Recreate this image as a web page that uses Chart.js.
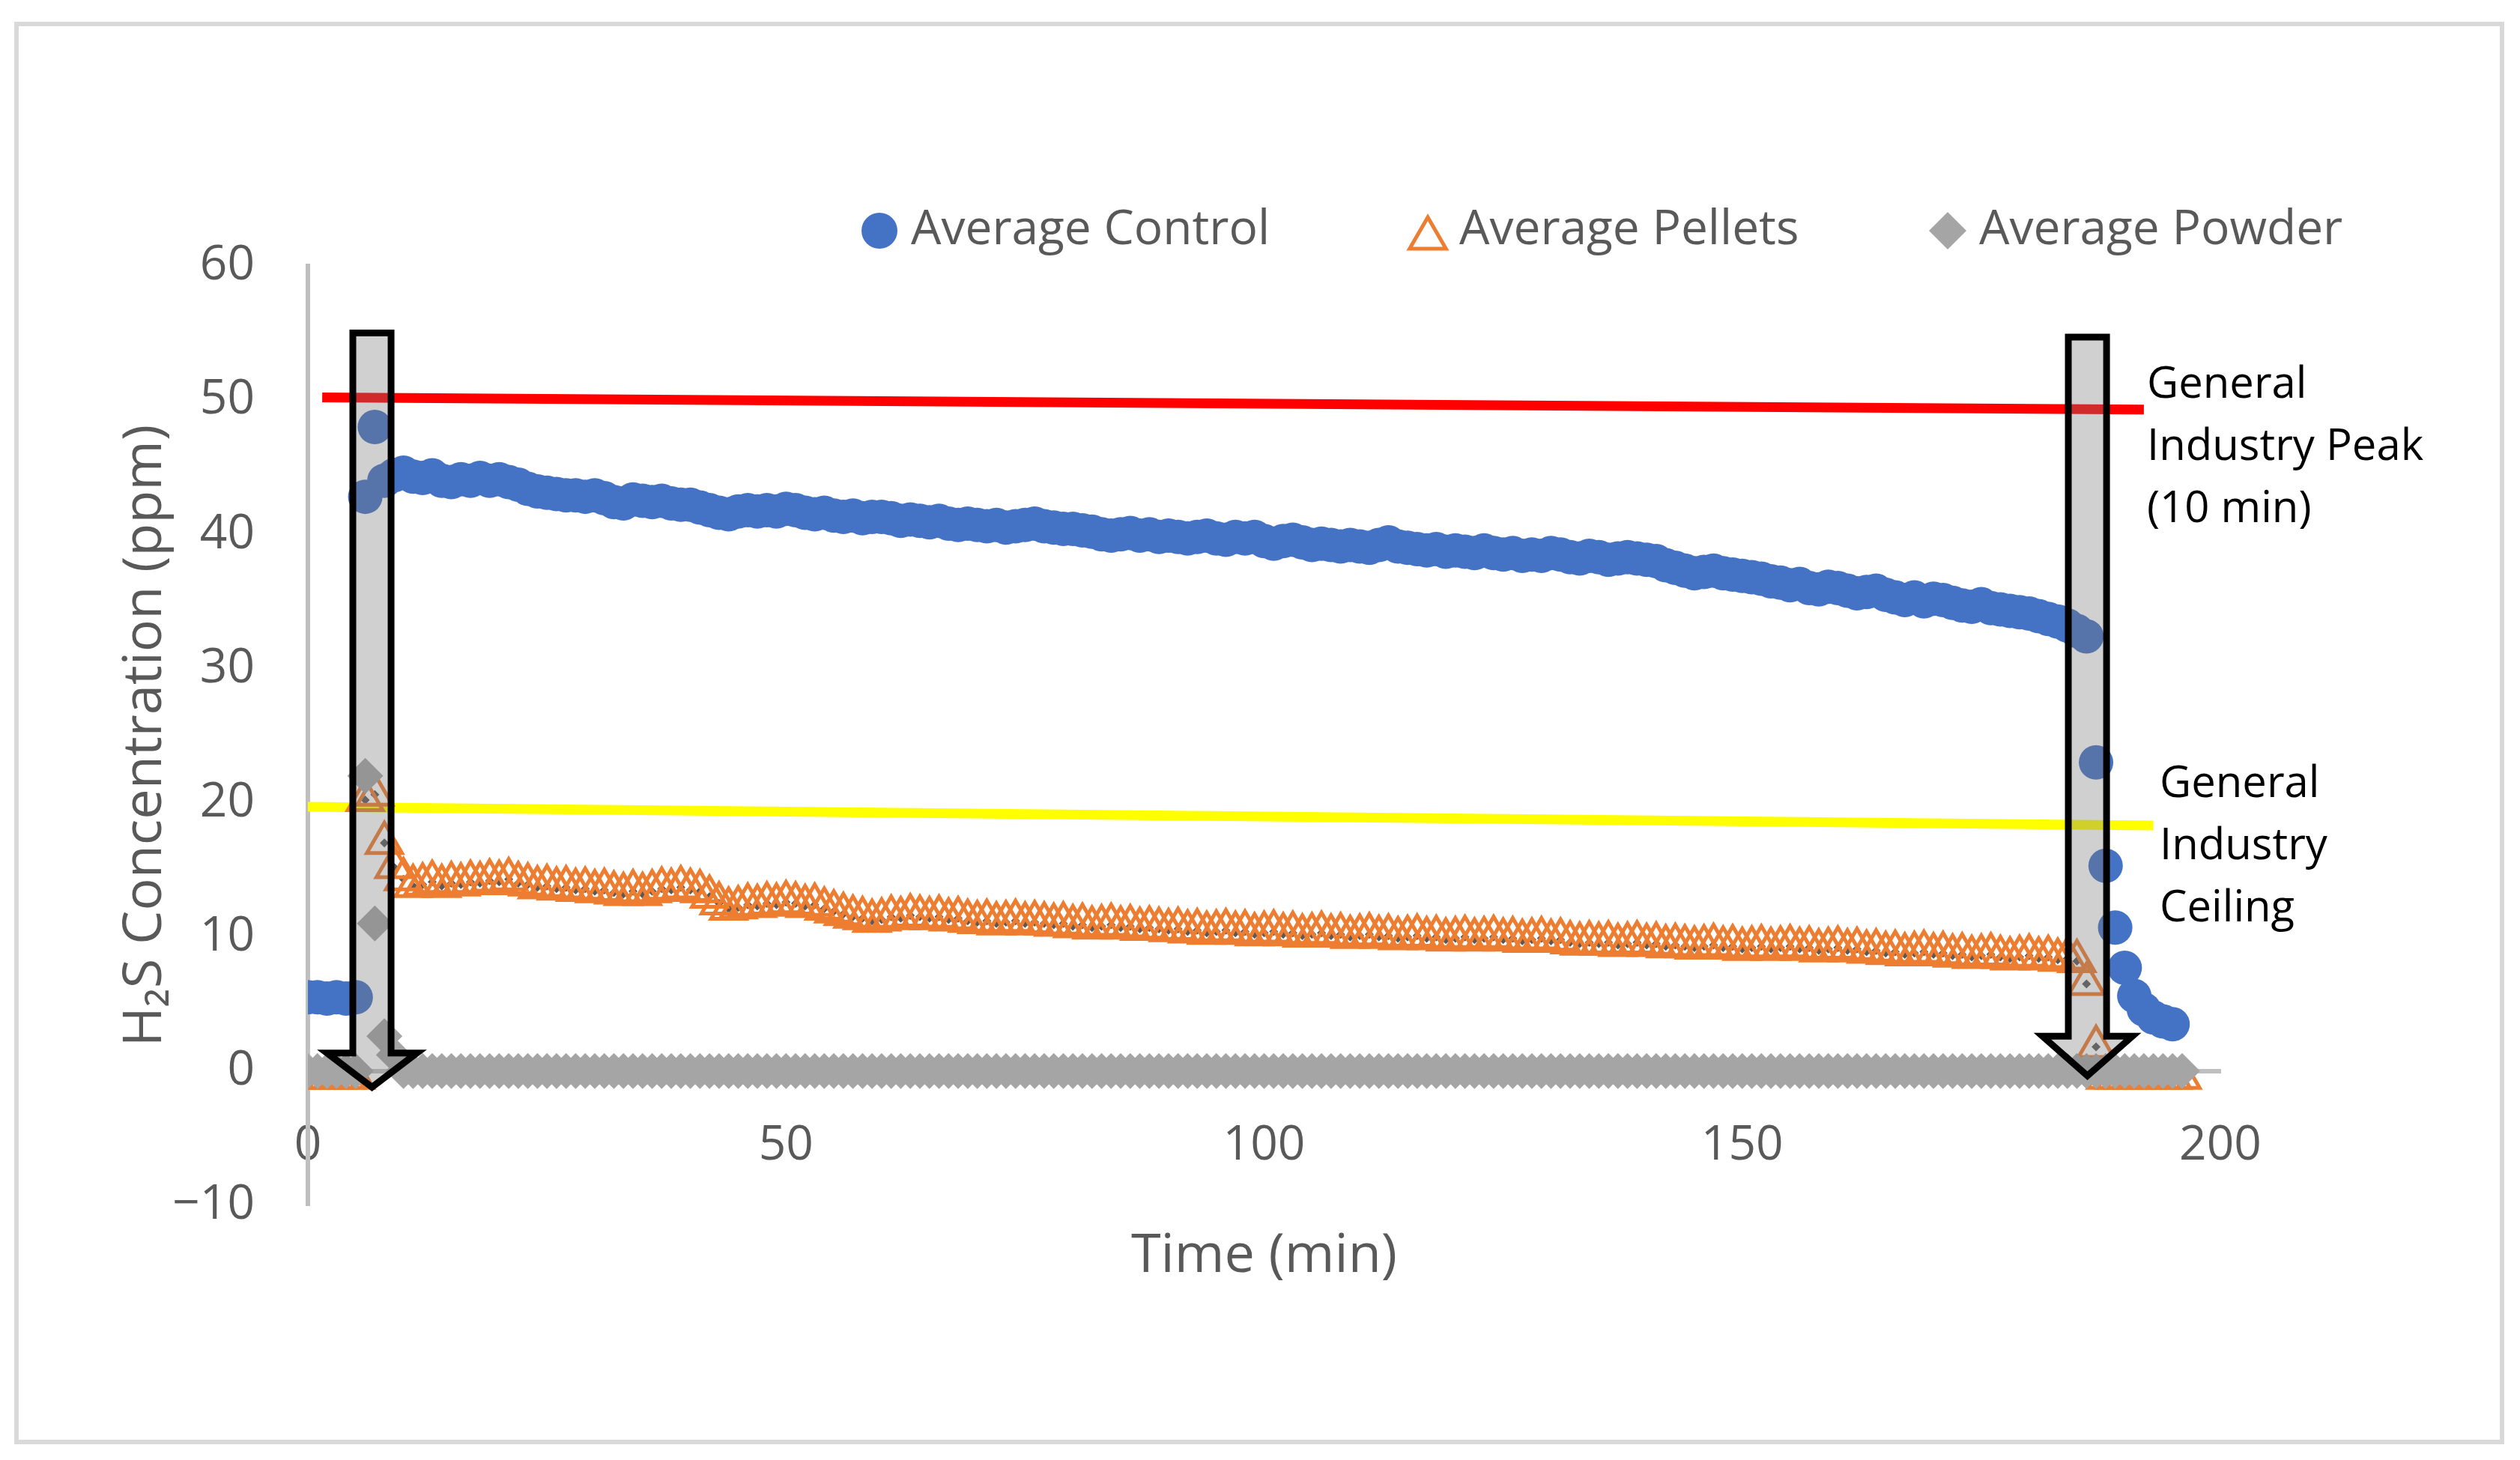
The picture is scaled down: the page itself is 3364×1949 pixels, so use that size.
<!DOCTYPE html>
<html>
<head>
<meta charset="utf-8">
<script src="https://cdn.jsdelivr.net/npm/chart.js@4.4.1/dist/chart.umd.min.js"></script>
<style>
html, body { margin: 0; padding: 0; background: #fff; }
#wrap { position: relative; width: 3364px; height: 1949px; }
</style>
</head>
<body>
<div id="wrap"><canvas id="chart"></canvas></div>
<script>
// time axis, one reading per minute
const minutes = [
  0, 1, 2, 3, 4, 5, 6, 7, 8, 9,
  10, 11, 12, 13, 14, 15, 16, 17, 18, 19,
  20, 21, 22, 23, 24, 25, 26, 27, 28, 29,
  30, 31, 32, 33, 34, 35, 36, 37, 38, 39,
  40, 41, 42, 43, 44, 45, 46, 47, 48, 49,
  50, 51, 52, 53, 54, 55, 56, 57, 58, 59,
  60, 61, 62, 63, 64, 65, 66, 67, 68, 69,
  70, 71, 72, 73, 74, 75, 76, 77, 78, 79,
  80, 81, 82, 83, 84, 85, 86, 87, 88, 89,
  90, 91, 92, 93, 94, 95, 96, 97, 98, 99,
  100, 101, 102, 103, 104, 105, 106, 107, 108, 109,
  110, 111, 112, 113, 114, 115, 116, 117, 118, 119,
  120, 121, 122, 123, 124, 125, 126, 127, 128, 129,
  130, 131, 132, 133, 134, 135, 136, 137, 138, 139,
  140, 141, 142, 143, 144, 145, 146, 147, 148, 149,
  150, 151, 152, 153, 154, 155, 156, 157, 158, 159,
  160, 161, 162, 163, 164, 165, 166, 167, 168, 169,
  170, 171, 172, 173, 174, 175, 176, 177, 178, 179,
  180, 181, 182, 183, 184, 185, 186, 187, 188, 189,
  190, 191, 192, 193, 194, 195, 196
];

const avgControl = [
  5.5, 5.5, 5.4, 5.5, 5.4, 5.5, 42.8, 48.0, 44.0, 44.4,
  44.6, 44.3, 44.2, 44.4, 44.0, 43.9, 44.1, 44.0, 44.2, 44.0,
  44.1, 43.9, 43.7, 43.4, 43.2, 43.1, 43.0, 42.9, 42.9, 42.8,
  42.9, 42.7, 42.4, 42.3, 42.6, 42.5, 42.4, 42.5, 42.3, 42.2,
  42.2, 42.0, 41.8, 41.6, 41.5, 41.7, 41.8, 41.7, 41.8, 41.7,
  41.9, 41.8, 41.6, 41.5, 41.6, 41.4, 41.3, 41.4, 41.2, 41.3,
  41.3, 41.2, 41.0, 41.1, 41.0, 40.9, 41.0, 40.8, 40.7, 40.8,
  40.7, 40.6, 40.7, 40.5, 40.6, 40.7, 40.8, 40.6, 40.5, 40.4,
  40.4, 40.3, 40.2, 40.0, 39.9, 40.0, 40.1, 39.9, 40.0, 39.8,
  39.9, 39.8, 39.7, 39.8, 39.9, 39.7, 39.6, 39.8, 39.7, 39.8,
  39.5, 39.3, 39.5, 39.6, 39.4, 39.2, 39.3, 39.2, 39.1, 39.2,
  39.1, 39.0, 39.2, 39.4, 39.1, 39.0, 38.9, 38.8, 38.9, 38.7,
  38.8, 38.7, 38.6, 38.8, 38.6, 38.5, 38.6, 38.4, 38.5, 38.4,
  38.6, 38.5, 38.3, 38.2, 38.4, 38.3, 38.1, 38.2, 38.3, 38.2,
  38.1, 38.0, 37.7, 37.5, 37.3, 37.1, 37.2, 37.3, 37.1, 37.0,
  36.9, 36.8, 36.7, 36.5, 36.4, 36.2, 36.3, 36.0, 35.9, 36.1,
  36.0, 35.8, 35.6, 35.7, 35.8, 35.5, 35.3, 35.1, 35.3, 35.0,
  35.2, 35.1, 34.9, 34.7, 34.6, 34.8, 34.5, 34.4, 34.3, 34.2,
  34.1, 33.9, 33.7, 33.5, 33.2, 32.8, 32.4, 23.0, 15.3, 10.7,
  7.7, 5.6, 4.6, 4.0, 3.7, 3.5, null
];

const avgPellets = [
  -0.5, -0.5, -0.5, -0.5, -0.5, -0.5, 20.2, 20.6, 17.0, 15.2,
  14.3, 13.8, 13.9, 14.1, 13.8, 14.0, 13.9, 14.1, 14.0, 14.2,
  14.1, 14.3, 14.0, 13.9, 13.7, 13.8, 13.6, 13.7, 13.5, 13.6,
  13.4, 13.5, 13.3, 13.2, 13.4, 13.2, 13.4, 13.6, 13.5, 13.7,
  13.5, 13.4, 13.0, 12.5, 12.1, 12.2, 12.4, 12.3, 12.5, 12.4,
  12.6, 12.5, 12.3, 12.4, 12.1, 11.9, 11.7, 11.5, 11.4, 11.2,
  11.3, 11.5, 11.4, 11.6, 11.5, 11.4, 11.5, 11.3, 11.4, 11.2,
  11.1, 11.2, 11.0, 11.1, 11.2, 11.0, 11.1, 11.0, 10.9, 11.0,
  10.8, 10.9, 10.7, 10.8, 10.9, 10.7, 10.8, 10.6, 10.7, 10.6,
  10.5, 10.6, 10.4, 10.5, 10.3, 10.4, 10.5, 10.3, 10.4, 10.2,
  10.3, 10.4, 10.2, 10.3, 10.1, 10.2, 10.3, 10.1, 10.2, 10.0,
  10.1, 10.2, 10.0, 10.1, 9.9, 10.0, 10.1, 9.9, 10.0, 9.8,
  9.9, 10.0, 9.8, 9.9, 10.0, 9.8, 9.9, 9.7, 9.8, 9.9,
  9.7, 9.8, 9.6, 9.5, 9.6, 9.5, 9.6, 9.4, 9.5, 9.6,
  9.4, 9.5, 9.3, 9.4, 9.3, 9.2, 9.3, 9.4, 9.2, 9.3,
  9.1, 9.2, 9.3, 9.1, 9.2, 9.3, 9.1, 9.2, 9.0, 9.1,
  9.2, 9.0, 9.1, 8.9, 9.0, 8.8, 8.9, 8.7, 8.8, 8.9,
  8.7, 8.8, 8.6, 8.7, 8.5, 8.6, 8.7, 8.5, 8.4, 8.5,
  8.6, 8.4, 8.5, 8.3, 8.4, 8.2, 6.5, 1.8, -0.5, -0.5,
  -0.5, -0.5, -0.5, -0.5, -0.5, -0.5, -0.5
];

const avgPowder = [
  0, 0, 0, 0, 0, 0, 22.0, 11.0, 2.6, 1.2,
  0, 0, 0, 0, 0, 0, 0, 0, 0, 0,
  0, 0, 0, 0, 0, 0, 0, 0, 0, 0,
  0, 0, 0, 0, 0, 0, 0, 0, 0, 0,
  0, 0, 0, 0, 0, 0, 0, 0, 0, 0,
  0, 0, 0, 0, 0, 0, 0, 0, 0, 0,
  0, 0, 0, 0, 0, 0, 0, 0, 0, 0,
  0, 0, 0, 0, 0, 0, 0, 0, 0, 0,
  0, 0, 0, 0, 0, 0, 0, 0, 0, 0,
  0, 0, 0, 0, 0, 0, 0, 0, 0, 0,
  0, 0, 0, 0, 0, 0, 0, 0, 0, 0,
  0, 0, 0, 0, 0, 0, 0, 0, 0, 0,
  0, 0, 0, 0, 0, 0, 0, 0, 0, 0,
  0, 0, 0, 0, 0, 0, 0, 0, 0, 0,
  0, 0, 0, 0, 0, 0, 0, 0, 0, 0,
  0, 0, 0, 0, 0, 0, 0, 0, 0, 0,
  0, 0, 0, 0, 0, 0, 0, 0, 0, 0,
  0, 0, 0, 0, 0, 0, 0, 0, 0, 0,
  0, 0, 0, 0, 0, 0, 0, 0, 0, 0,
  0, 0, 0, 0, 0, 0, 0
];

const xTicks = [0, 50, 100, 150, 200];
const yTicks = [-10, 0, 10, 20, 30, 40, 50, 60];

// hand drawn limit lines (ends in data units)
const peakLineX = [1.5, 192];
const peakLineY = [50.2, 49.3];
const ceilingLineX = [0, 193];
const ceilingLineY = [19.7, 18.3];

// the two down arrows: centre time, top, head base and tip (data units)
const arrowX = [6.7, 186.1];
const arrowTop = [55.0, 54.7];
const arrowBase = [1.35, 2.6];
const arrowTip = [-1.2, -0.35];

const FONT = "'Open Sans', sans-serif";
const GREY_TEXT = '#595959';

function toPoints(xs, ys) {
  let pts = [];
  xs.forEach((x, i) => {
    if (ys[i] !== null && ys[i] !== undefined) pts.push({ x: x, y: ys[i] });
  });
  return pts;
}

//-----------------------------------------------
const framePlugin = {
  id: 'frame',
  beforeDraw(chart) {
    const ctx = chart.ctx;
    ctx.save();
    ctx.fillStyle = '#fff';
    ctx.fillRect(0, 0, chart.width, chart.height);
    ctx.strokeStyle = '#D9D9D9';
    ctx.lineWidth = 6;
    ctx.strokeRect(22, 32, 3318, 1893);
    ctx.restore();
  }
};

const arrowPlugin = {
  id: 'arrows',
  afterDatasetsDraw(chart) {
    const { ctx, scales } = chart;
    const x = scales.x, y = scales.y;
    arrowX.forEach((ax, i) => {
      const cx = x.getPixelForValue(ax);
      const sw = x.getPixelForValue(ax + 2.0) - cx;
      const hw = x.getPixelForValue(ax + 4.7) - cx;
      const top = y.getPixelForValue(arrowTop[i]);
      const base = y.getPixelForValue(arrowBase[i]);
      const tip = y.getPixelForValue(arrowTip[i]);
      ctx.save();
      ctx.beginPath();
      ctx.moveTo(cx - sw, top);
      ctx.lineTo(cx + sw, top);
      ctx.lineTo(cx + sw, base);
      ctx.lineTo(cx + hw, base);
      ctx.lineTo(cx, tip);
      ctx.lineTo(cx - hw, base);
      ctx.lineTo(cx - sw, base);
      ctx.closePath();
      ctx.fillStyle = 'rgba(120,120,120,0.35)';
      ctx.fill();
      ctx.lineWidth = 9;
      ctx.lineJoin = 'miter';
      ctx.strokeStyle = '#000';
      ctx.stroke();
      ctx.restore();
    });
  }
};

const textPlugin = {
  id: 'texts',
  afterDraw(chart) {
    const ctx = chart.ctx;
    ctx.save();
    // legend
    const items = [
      { text: 'Average Control', x: 1174, y: 308, style: 'circle', r: 24, fill: '#4472C4', stroke: '#4472C4', bw: 0 },
      { text: 'Average Pellets', x: 1906, y: 318, style: 'triangle', r: 28, fill: '#fff', stroke: '#ED7D31', bw: 5 },
      { text: 'Average Powder', x: 2600, y: 308, style: 'rectRot', r: 25, fill: '#A5A5A5', stroke: '#A5A5A5', bw: 0 }
    ];
    items.forEach((it) => {
      ctx.fillStyle = it.fill;
      ctx.strokeStyle = it.stroke;
      ctx.lineWidth = it.bw;
      Chart.helpers.drawPoint(ctx, { pointStyle: it.style, radius: it.r, rotation: 0, borderWidth: it.bw }, it.x, it.y);
      ctx.fillStyle = GREY_TEXT;
      ctx.font = '64px ' + FONT;
      ctx.textAlign = 'left';
      ctx.textBaseline = 'middle';
      ctx.fillText(it.text, it.x + 42, 308);
    });
    // notes beside the limit lines
    ctx.fillStyle = '#000';
    ctx.font = '58px ' + FONT;
    ['General', 'Industry Peak', '(10 min)'].forEach((t, i) => ctx.fillText(t, 2866, 514 + i * 83));
    ['General', 'Industry', 'Ceiling'].forEach((t, i) => ctx.fillText(t, 2883, 1047 + i * 83));
    ctx.restore();
  }
};

//-----------------------------------------------
Chart.defaults.font.family = FONT;
Chart.defaults.color = GREY_TEXT;

new Chart(document.getElementById('chart'), {
  type: 'scatter',
  data: {
    datasets: [
      {
        type: 'line', label: 'peak', data: toPoints(peakLineX, peakLineY),
        borderColor: '#FF0000', borderWidth: 13, pointRadius: 0, order: 5
      },
      {
        type: 'line', label: 'ceiling', data: toPoints(ceilingLineX, ceilingLineY),
        borderColor: '#FFFF00', borderWidth: 13, pointRadius: 0, order: 5
      },
      {
        label: 'Average Control', data: toPoints(minutes, avgControl), showLine: false,
        pointStyle: 'circle', pointRadius: 23, pointBorderWidth: 0,
        pointBackgroundColor: '#4472C4', pointBorderColor: '#4472C4', order: 4
      },
      {
        // dark dots showing through the hollow triangles
        label: 'pellet core', data: toPoints(minutes, avgPellets), showLine: false,
        pointStyle: 'rectRot', pointRadius: 6, pointBorderWidth: 0,
        pointBackgroundColor: '#595959', pointBorderColor: '#595959', order: 3
      },
      {
        label: 'Average Pellets', data: toPoints(minutes, avgPellets), showLine: false,
        pointStyle: 'triangle', pointRadius: 27, pointBorderWidth: 5,
        pointBackgroundColor: 'rgba(255,255,255,0)', pointBorderColor: '#ED7D31', order: 2
      },
      {
        label: 'Average Powder', data: toPoints(minutes, avgPowder), showLine: false,
        pointStyle: 'rectRot', pointRadius: 24, pointBorderWidth: 0,
        pointBackgroundColor: '#A5A5A5', pointBorderColor: '#A5A5A5', order: 1
      }
    ]
  },
  options: {
    responsive: true,
    maintainAspectRatio: false,
    animation: false,
    devicePixelRatio: 1,
    layout: { padding: { left: 0, top: 355, right: 400, bottom: 340 } },
    plugins: { legend: { display: false }, tooltip: { enabled: false } },
    scales: {
      x: {
        type: 'linear', position: { y: 0 }, min: 0, max: 200,
        afterBuildTicks: (scale) => { scale.ticks = xTicks.map((v) => ({ value: v })); },
        grid: { display: false, drawTicks: false },
        border: { color: '#BFBFBF', width: 6 },
        ticks: { font: { size: 64 }, color: GREY_TEXT, padding: 62 },
        title: { display: true, text: 'Time (min)', font: { size: 72 }, color: GREY_TEXT, padding: { top: 4, bottom: 0 } }
      },
      y: {
        type: 'linear', position: 'left', min: -10, max: 60,
        afterBuildTicks: (scale) => { scale.ticks = yTicks.map((v) => ({ value: v })); },
        afterFit: (scale) => { scale.width = 411; },
        grid: { display: false, drawTicks: false },
        border: { color: '#BFBFBF', width: 6 },
        ticks: {
          font: { size: 64 }, color: GREY_TEXT, padding: 71,
          callback: (v) => (v < 0 ? '\u2212' + Math.abs(v) : '' + v)
        },
        title: { display: true, text: 'H\u2082S Concentration (ppm)', font: { size: 72 }, color: GREY_TEXT, padding: { top: 151, bottom: 0 } }
      }
    }
  },
  plugins: [framePlugin, arrowPlugin, textPlugin]
});
</script>
</body>
</html>
